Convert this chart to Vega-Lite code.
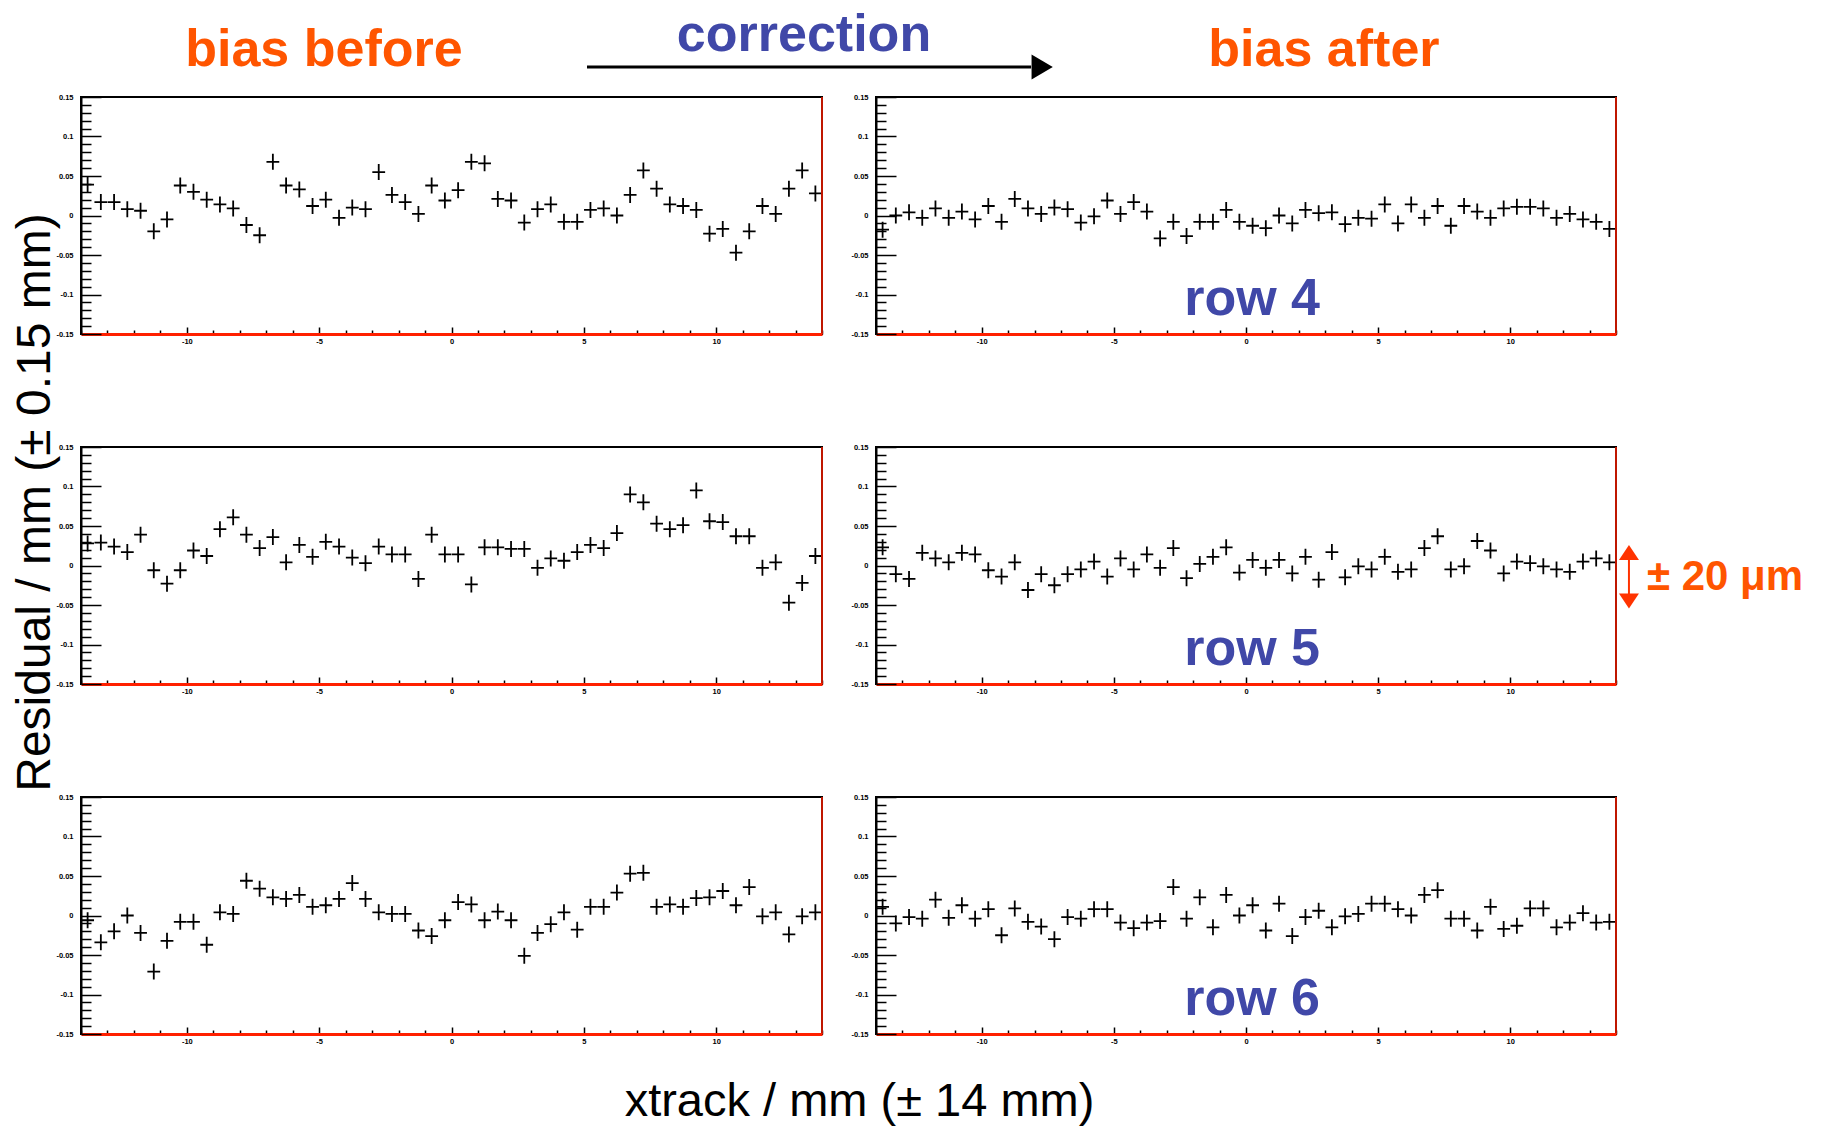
{
"$schema": "https://vega.github.io/schema/vega-lite/v6.json",
"padding": {"left": 9, "top": 8, "right": 10, "bottom": 5},
"background": "white",
"datasets": {
"b4": [{"x":-13.75,"y":0.039},{"x":-13.25,"y":0.017},{"x":-12.75,"y":0.017},{"x":-12.25,"y":0.008},{"x":-11.75,"y":0.006},{"x":-11.25,"y":-0.02},{"x":-10.75,"y":-0.005},{"x":-10.25,"y":0.038},{"x":-9.75,"y":0.03},{"x":-9.25,"y":0.02},{"x":-8.75,"y":0.014},{"x":-8.25,"y":0.009},{"x":-7.75,"y":-0.012},{"x":-7.25,"y":-0.025},{"x":-6.75,"y":0.068},{"x":-6.25,"y":0.038},{"x":-5.75,"y":0.033},{"x":-5.25,"y":0.012},{"x":-4.75,"y":0.02},{"x":-4.25,"y":-0.003},{"x":-3.75,"y":0.01},{"x":-3.25,"y":0.008},{"x":-2.75,"y":0.055},{"x":-2.25,"y":0.026},{"x":-1.75,"y":0.017},{"x":-1.25,"y":0.002},{"x":-0.75,"y":0.038},{"x":-0.25,"y":0.019},{"x":0.25,"y":0.032},{"x":0.75,"y":0.068},{"x":1.25,"y":0.066},{"x":1.75,"y":0.021},{"x":2.25,"y":0.019},{"x":2.75,"y":-0.009},{"x":3.25,"y":0.008},{"x":3.75,"y":0.014},{"x":4.25,"y":-0.008},{"x":4.75,"y":-0.008},{"x":5.25,"y":0.007},{"x":5.75,"y":0.009},{"x":6.25,"y":0},{"x":6.75,"y":0.026},{"x":7.25,"y":0.057},{"x":7.75,"y":0.034},{"x":8.25,"y":0.014},{"x":8.75,"y":0.012},{"x":9.25,"y":0.007},{"x":9.75,"y":-0.023},{"x":10.25,"y":-0.017},{"x":10.75,"y":-0.047},{"x":11.25,"y":-0.02},{"x":11.75,"y":0.012},{"x":12.25,"y":0.002},{"x":12.75,"y":0.034},{"x":13.25,"y":0.057},{"x":13.75,"y":0.028}],
"a4": [{"x":-13.75,"y":-0.018},{"x":-13.25,"y":0},{"x":-12.75,"y":0.004},{"x":-12.25,"y":-0.003},{"x":-11.75,"y":0.009},{"x":-11.25,"y":-0.003},{"x":-10.75,"y":0.005},{"x":-10.25,"y":-0.005},{"x":-9.75,"y":0.012},{"x":-9.25,"y":-0.008},{"x":-8.75,"y":0.021},{"x":-8.25,"y":0.009},{"x":-7.75,"y":0.002},{"x":-7.25,"y":0.01},{"x":-6.75,"y":0.008},{"x":-6.25,"y":-0.009},{"x":-5.75,"y":-0.001},{"x":-5.25,"y":0.019},{"x":-4.75,"y":0.002},{"x":-4.25,"y":0.017},{"x":-3.75,"y":0.005},{"x":-3.25,"y":-0.029},{"x":-2.75,"y":-0.008},{"x":-2.25,"y":-0.026},{"x":-1.75,"y":-0.008},{"x":-1.25,"y":-0.008},{"x":-0.75,"y":0.007},{"x":-0.25,"y":-0.008},{"x":0.25,"y":-0.013},{"x":0.75,"y":-0.016},{"x":1.25,"y":0},{"x":1.75,"y":-0.01},{"x":2.25,"y":0.007},{"x":2.75,"y":0.003},{"x":3.25,"y":0.004},{"x":3.75,"y":-0.011},{"x":4.25,"y":-0.003},{"x":4.75,"y":-0.004},{"x":5.25,"y":0.014},{"x":5.75,"y":-0.01},{"x":6.25,"y":0.014},{"x":6.75,"y":-0.003},{"x":7.25,"y":0.012},{"x":7.75,"y":-0.013},{"x":8.25,"y":0.012},{"x":8.75,"y":0.005},{"x":9.25,"y":-0.003},{"x":9.75,"y":0.009},{"x":10.25,"y":0.011},{"x":10.75,"y":0.011},{"x":11.25,"y":0.009},{"x":11.75,"y":-0.003},{"x":12.25,"y":0.002},{"x":12.75,"y":-0.005},{"x":13.25,"y":-0.008},{"x":13.75,"y":-0.017}],
"b5": [{"x":-13.75,"y":0.028},{"x":-13.25,"y":0.029},{"x":-12.75,"y":0.024},{"x":-12.25,"y":0.017},{"x":-11.75,"y":0.039},{"x":-11.25,"y":-0.006},{"x":-10.75,"y":-0.023},{"x":-10.25,"y":-0.006},{"x":-9.75,"y":0.019},{"x":-9.25,"y":0.012},{"x":-8.75,"y":0.046},{"x":-8.25,"y":0.061},{"x":-7.75,"y":0.039},{"x":-7.25,"y":0.022},{"x":-6.75,"y":0.036},{"x":-6.25,"y":0.004},{"x":-5.75,"y":0.026},{"x":-5.25,"y":0.011},{"x":-4.75,"y":0.03},{"x":-4.25,"y":0.024},{"x":-3.75,"y":0.01},{"x":-3.25,"y":0.003},{"x":-2.75,"y":0.024},{"x":-2.25,"y":0.014},{"x":-1.75,"y":0.014},{"x":-1.25,"y":-0.017},{"x":-0.75,"y":0.039},{"x":-0.25,"y":0.014},{"x":0.25,"y":0.014},{"x":0.75,"y":-0.024},{"x":1.25,"y":0.023},{"x":1.75,"y":0.023},{"x":2.25,"y":0.021},{"x":2.75,"y":0.021},{"x":3.25,"y":-0.003},{"x":3.75,"y":0.009},{"x":4.25,"y":0.006},{"x":4.75,"y":0.017},{"x":5.25,"y":0.026},{"x":5.75,"y":0.022},{"x":6.25,"y":0.041},{"x":6.75,"y":0.09},{"x":7.25,"y":0.08},{"x":7.75,"y":0.053},{"x":8.25,"y":0.046},{"x":8.75,"y":0.051},{"x":9.25,"y":0.095},{"x":9.75,"y":0.056},{"x":10.25,"y":0.055},{"x":10.75,"y":0.037},{"x":11.25,"y":0.037},{"x":11.75,"y":-0.003},{"x":12.25,"y":0.004},{"x":12.75,"y":-0.047},{"x":13.25,"y":-0.022},{"x":13.75,"y":0.012}],
"a5": [{"x":-13.75,"y":0.023},{"x":-13.25,"y":-0.011},{"x":-12.75,"y":-0.017},{"x":-12.25,"y":0.016},{"x":-11.75,"y":0.009},{"x":-11.25,"y":0.004},{"x":-10.75,"y":0.016},{"x":-10.25,"y":0.014},{"x":-9.75,"y":-0.006},{"x":-9.25,"y":-0.014},{"x":-8.75,"y":0.004},{"x":-8.25,"y":-0.031},{"x":-7.75,"y":-0.011},{"x":-7.25,"y":-0.025},{"x":-6.75,"y":-0.011},{"x":-6.25,"y":-0.005},{"x":-5.75,"y":0.005},{"x":-5.25,"y":-0.014},{"x":-4.75,"y":0.009},{"x":-4.25,"y":-0.005},{"x":-3.75,"y":0.014},{"x":-3.25,"y":-0.003},{"x":-2.75,"y":0.022},{"x":-2.25,"y":-0.016},{"x":-1.75,"y":0.002},{"x":-1.25,"y":0.011},{"x":-0.75,"y":0.023},{"x":-0.25,"y":-0.009},{"x":0.25,"y":0.007},{"x":0.75,"y":-0.003},{"x":1.25,"y":0.007},{"x":1.75,"y":-0.01},{"x":2.25,"y":0.011},{"x":2.75,"y":-0.018},{"x":3.25,"y":0.017},{"x":3.75,"y":-0.015},{"x":4.25,"y":-0.001},{"x":4.75,"y":-0.005},{"x":5.25,"y":0.011},{"x":5.75,"y":-0.008},{"x":6.25,"y":-0.005},{"x":6.75,"y":0.022},{"x":7.25,"y":0.037},{"x":7.75,"y":-0.005},{"x":8.25,"y":-0.001},{"x":8.75,"y":0.031},{"x":9.25,"y":0.019},{"x":9.75,"y":-0.01},{"x":10.25,"y":0.005},{"x":10.75,"y":0.003},{"x":11.25,"y":-0.001},{"x":11.75,"y":-0.005},{"x":12.25,"y":-0.008},{"x":12.75,"y":0.005},{"x":13.25,"y":0.009},{"x":13.75,"y":0.004}],
"b6": [{"x":-13.75,"y":-0.006},{"x":-13.25,"y":-0.034},{"x":-12.75,"y":-0.02},{"x":-12.25,"y":0},{"x":-11.75,"y":-0.022},{"x":-11.25,"y":-0.071},{"x":-10.75,"y":-0.032},{"x":-10.25,"y":-0.008},{"x":-9.75,"y":-0.008},{"x":-9.25,"y":-0.037},{"x":-8.75,"y":0.004},{"x":-8.25,"y":0.002},{"x":-7.75,"y":0.044},{"x":-7.25,"y":0.034},{"x":-6.75,"y":0.023},{"x":-6.25,"y":0.021},{"x":-5.75,"y":0.026},{"x":-5.25,"y":0.011},{"x":-4.75,"y":0.013},{"x":-4.25,"y":0.021},{"x":-3.75,"y":0.041},{"x":-3.25,"y":0.021},{"x":-2.75,"y":0.004},{"x":-2.25,"y":0.002},{"x":-1.75,"y":0.002},{"x":-1.25,"y":-0.019},{"x":-0.75,"y":-0.026},{"x":-0.25,"y":-0.006},{"x":0.25,"y":0.017},{"x":0.75,"y":0.014},{"x":1.25,"y":-0.006},{"x":1.75,"y":0.005},{"x":2.25,"y":-0.006},{"x":2.75,"y":-0.051},{"x":3.25,"y":-0.022},{"x":3.75,"y":-0.011},{"x":4.25,"y":0.004},{"x":4.75,"y":-0.018},{"x":5.25,"y":0.011},{"x":5.75,"y":0.011},{"x":6.25,"y":0.029},{"x":6.75,"y":0.053},{"x":7.25,"y":0.054},{"x":7.75,"y":0.011},{"x":8.25,"y":0.014},{"x":8.75,"y":0.011},{"x":9.25,"y":0.022},{"x":9.75,"y":0.023},{"x":10.25,"y":0.031},{"x":10.75,"y":0.013},{"x":11.25,"y":0.036},{"x":11.75,"y":-0.001},{"x":12.25,"y":0.004},{"x":12.75,"y":-0.024},{"x":13.25,"y":-0.001},{"x":13.75,"y":0.004}],
"a6": [{"x":-13.75,"y":0.011},{"x":-13.25,"y":-0.01},{"x":-12.75,"y":-0.002},{"x":-12.25,"y":-0.004},{"x":-11.75,"y":0.02},{"x":-11.25,"y":-0.003},{"x":-10.75,"y":0.013},{"x":-10.25,"y":-0.004},{"x":-9.75,"y":0.008},{"x":-9.25,"y":-0.025},{"x":-8.75,"y":0.009},{"x":-8.25,"y":-0.008},{"x":-7.75,"y":-0.014},{"x":-7.25,"y":-0.03},{"x":-6.75,"y":-0.002},{"x":-6.25,"y":-0.004},{"x":-5.75,"y":0.008},{"x":-5.25,"y":0.008},{"x":-4.75,"y":-0.009},{"x":-4.25,"y":-0.016},{"x":-3.75,"y":-0.009},{"x":-3.25,"y":-0.007},{"x":-2.75,"y":0.036},{"x":-2.25,"y":-0.004},{"x":-1.75,"y":0.023},{"x":-1.25,"y":-0.015},{"x":-0.75,"y":0.026},{"x":-0.25,"y":0},{"x":0.25,"y":0.013},{"x":0.75,"y":-0.019},{"x":1.25,"y":0.015},{"x":1.75,"y":-0.026},{"x":2.25,"y":-0.002},{"x":2.75,"y":0.006},{"x":3.25,"y":-0.015},{"x":3.75,"y":-0.001},{"x":4.25,"y":0.002},{"x":4.75,"y":0.015},{"x":5.25,"y":0.015},{"x":5.75,"y":0.008},{"x":6.25,"y":0},{"x":6.75,"y":0.026},{"x":7.25,"y":0.032},{"x":7.75,"y":-0.004},{"x":8.25,"y":-0.004},{"x":8.75,"y":-0.019},{"x":9.25,"y":0.011},{"x":9.75,"y":-0.017},{"x":10.25,"y":-0.013},{"x":10.75,"y":0.009},{"x":11.25,"y":0.009},{"x":11.75,"y":-0.015},{"x":12.25,"y":-0.009},{"x":12.75,"y":0.003},{"x":13.25,"y":-0.009},{"x":13.75,"y":-0.008}]
},
"columns": 2,
"spacing": {"row": 113, "column": 54},
"bounds": "flush",
"concat": [
 {"width": 741, "height": 237, "resolve": {"axis": {"x": "independent", "y": "independent"}}, "layer": [
  {"data": {"name": "b4"}, "mark": {"type": "point", "shape": "M-0.8,0H0.8M0,-1V1", "size": 256, "filled": false, "color": "#000", "strokeWidth": 1.8, "opacity": 1},
   "encoding": {
    "x": {"field": "x", "type": "quantitative", "scale": {"domain": [-14, 14], "nice": false, "zero": false}, "axis": {"title": null, "values": [-14,-13,-12,-11,-10,-9,-8,-7,-6,-5,-4,-3,-2,-1,0,1,2,3,4,5,6,7,8,9,10,11,12,13,14], "labelExpr": "datum.value % 5 === 0 ? '' + datum.value : ''", "tickSize": {"condition": {"test": "datum.value % 5 === 0", "value": -7}, "value": -4}, "labelPadding": 10, "domainColor": "#FF2000", "domainWidth": 3, "labelBaseline": "top", "labelAlign": "center"}},
    "y": {"field": "y", "type": "quantitative", "scale": {"domain": [-0.15, 0.15], "nice": false, "zero": false}, "axis": {"title": null, "values": [-0.15,-0.14,-0.13,-0.12,-0.11,-0.1,-0.09,-0.08,-0.07,-0.06,-0.05,-0.04,-0.03,-0.02,-0.01,0,0.01,0.02,0.03,0.04,0.05,0.06,0.07,0.08,0.09,0.1,0.11,0.12,0.13,0.14,0.15], "labelExpr": "abs(round(datum.value*100)) % 5 === 0 ? '' + round(datum.value*100)/100 : ''", "tickSize": {"condition": {"test": "abs(round(datum.value*100)) % 5 === 0", "value": -20}, "value": -10}, "labelPadding": 28, "domainColor": "#000", "domainWidth": 2, "labelAlign": "right", "labelBaseline": "middle"}}
   }},
  {"data": {"values": [{}]}, "mark": {"type": "rule", "color": "#FF1E00", "strokeWidth": 1.5}, "encoding": {"x": {"datum": 14, "axis": null}}},
  {"data": {"values": [{}]}, "mark": {"type": "text", "text": "bias before", "font": "Liberation Sans", "fontWeight": "bold", "fontSize": 52, "color": "#FF5500", "align": "center", "baseline": "alphabetic"}, "encoding": {"x": {"datum": -4.82, "axis": null}, "y": {"datum": 0.189, "axis": null}}},
  {"data": {"values": [{}]}, "mark": {"type": "text", "text": "correction", "font": "Liberation Sans", "fontWeight": "bold", "fontSize": 52, "color": "#4048A8", "align": "center", "baseline": "alphabetic"}, "encoding": {"x": {"datum": 13.32, "axis": null}, "y": {"datum": 0.208, "axis": null}}},
  {"data": {"values": [{}]}, "mark": {"type": "rule", "color": "#000", "strokeWidth": 3}, "encoding": {"x": {"datum": 5.12, "axis": null}, "x2": {"datum": 21.9}, "y": {"datum": 0.188, "axis": null}}},
  {"data": {"values": [{}]}, "mark": {"type": "point", "shape": "M-0.85,-1L0.85,0L-0.85,1Z", "size": 625, "filled": true, "color": "#000", "opacity": 1}, "encoding": {"x": {"datum": 22.32, "axis": null}, "y": {"datum": 0.188, "axis": null}}}
 ]},
 {"width": 740, "height": 237, "resolve": {"axis": {"x": "independent", "y": "independent"}}, "layer": [
  {"data": {"name": "a4"}, "mark": {"type": "point", "shape": "M-0.8,0H0.8M0,-1V1", "size": 256, "filled": false, "color": "#000", "strokeWidth": 1.8, "opacity": 1},
   "encoding": {
    "x": {"field": "x", "type": "quantitative", "scale": {"domain": [-14, 14], "nice": false, "zero": false}, "axis": {"title": null, "values": [-14,-13,-12,-11,-10,-9,-8,-7,-6,-5,-4,-3,-2,-1,0,1,2,3,4,5,6,7,8,9,10,11,12,13,14], "labelExpr": "datum.value % 5 === 0 ? '' + datum.value : ''", "tickSize": {"condition": {"test": "datum.value % 5 === 0", "value": -7}, "value": -4}, "labelPadding": 10, "domainColor": "#FF2000", "domainWidth": 3, "labelBaseline": "top", "labelAlign": "center"}},
    "y": {"field": "y", "type": "quantitative", "scale": {"domain": [-0.15, 0.15], "nice": false, "zero": false}, "axis": {"title": null, "values": [-0.15,-0.14,-0.13,-0.12,-0.11,-0.1,-0.09,-0.08,-0.07,-0.06,-0.05,-0.04,-0.03,-0.02,-0.01,0,0.01,0.02,0.03,0.04,0.05,0.06,0.07,0.08,0.09,0.1,0.11,0.12,0.13,0.14,0.15], "labelExpr": "abs(round(datum.value*100)) % 5 === 0 ? '' + round(datum.value*100)/100 : ''", "tickSize": {"condition": {"test": "abs(round(datum.value*100)) % 5 === 0", "value": -20}, "value": -10}, "labelPadding": 28, "domainColor": "#000", "domainWidth": 2, "labelAlign": "right", "labelBaseline": "middle"}}
   }},
  {"data": {"values": [{}]}, "mark": {"type": "rule", "color": "#FF1E00", "strokeWidth": 1.5}, "encoding": {"x": {"datum": 14, "axis": null}}},
  {"data": {"values": [{}]}, "mark": {"type": "text", "text": "bias after", "font": "Liberation Sans", "fontWeight": "bold", "fontSize": 52, "color": "#FF5500", "align": "center", "baseline": "alphabetic"}, "encoding": {"x": {"datum": 2.95, "axis": null}, "y": {"datum": 0.189, "axis": null}}},
  {"data": {"values": [{}]}, "mark": {"type": "text", "text": "row 4", "font": "Liberation Sans", "fontWeight": "bold", "fontSize": 52, "color": "#4048A8", "align": "center", "baseline": "alphabetic"}, "encoding": {"x": {"datum": 0.23, "axis": null}, "y": {"datum": -0.126, "axis": null}}}
 ]},
 {"width": 741, "height": 237, "resolve": {"axis": {"x": "independent", "y": "independent"}}, "layer": [
  {"data": {"name": "b5"}, "mark": {"type": "point", "shape": "M-0.8,0H0.8M0,-1V1", "size": 256, "filled": false, "color": "#000", "strokeWidth": 1.8, "opacity": 1},
   "encoding": {
    "x": {"field": "x", "type": "quantitative", "scale": {"domain": [-14, 14], "nice": false, "zero": false}, "axis": {"title": null, "values": [-14,-13,-12,-11,-10,-9,-8,-7,-6,-5,-4,-3,-2,-1,0,1,2,3,4,5,6,7,8,9,10,11,12,13,14], "labelExpr": "datum.value % 5 === 0 ? '' + datum.value : ''", "tickSize": {"condition": {"test": "datum.value % 5 === 0", "value": -7}, "value": -4}, "labelPadding": 10, "domainColor": "#FF2000", "domainWidth": 3, "labelBaseline": "top", "labelAlign": "center"}},
    "y": {"field": "y", "type": "quantitative", "scale": {"domain": [-0.15, 0.15], "nice": false, "zero": false}, "axis": {"title": "Residual / mm (± 0.15 mm)", "titleFontSize": 48, "titleX": -46, "titleY": 55, "titleAngle": 270, "titleAlign": "center", "titleBaseline": "middle", "values": [-0.15,-0.14,-0.13,-0.12,-0.11,-0.1,-0.09,-0.08,-0.07,-0.06,-0.05,-0.04,-0.03,-0.02,-0.01,0,0.01,0.02,0.03,0.04,0.05,0.06,0.07,0.08,0.09,0.1,0.11,0.12,0.13,0.14,0.15], "labelExpr": "abs(round(datum.value*100)) % 5 === 0 ? '' + round(datum.value*100)/100 : ''", "tickSize": {"condition": {"test": "abs(round(datum.value*100)) % 5 === 0", "value": -20}, "value": -10}, "labelPadding": 28, "domainColor": "#000", "domainWidth": 2, "labelAlign": "right", "labelBaseline": "middle"}}
   }},
  {"data": {"values": [{}]}, "mark": {"type": "rule", "color": "#FF1E00", "strokeWidth": 1.5}, "encoding": {"x": {"datum": 14, "axis": null}}}
 ]},
 {"width": 740, "height": 237, "resolve": {"axis": {"x": "independent", "y": "independent"}}, "layer": [
  {"data": {"name": "a5"}, "mark": {"type": "point", "shape": "M-0.8,0H0.8M0,-1V1", "size": 256, "filled": false, "color": "#000", "strokeWidth": 1.8, "opacity": 1},
   "encoding": {
    "x": {"field": "x", "type": "quantitative", "scale": {"domain": [-14, 14], "nice": false, "zero": false}, "axis": {"title": null, "values": [-14,-13,-12,-11,-10,-9,-8,-7,-6,-5,-4,-3,-2,-1,0,1,2,3,4,5,6,7,8,9,10,11,12,13,14], "labelExpr": "datum.value % 5 === 0 ? '' + datum.value : ''", "tickSize": {"condition": {"test": "datum.value % 5 === 0", "value": -7}, "value": -4}, "labelPadding": 10, "domainColor": "#FF2000", "domainWidth": 3, "labelBaseline": "top", "labelAlign": "center"}},
    "y": {"field": "y", "type": "quantitative", "scale": {"domain": [-0.15, 0.15], "nice": false, "zero": false}, "axis": {"title": null, "values": [-0.15,-0.14,-0.13,-0.12,-0.11,-0.1,-0.09,-0.08,-0.07,-0.06,-0.05,-0.04,-0.03,-0.02,-0.01,0,0.01,0.02,0.03,0.04,0.05,0.06,0.07,0.08,0.09,0.1,0.11,0.12,0.13,0.14,0.15], "labelExpr": "abs(round(datum.value*100)) % 5 === 0 ? '' + round(datum.value*100)/100 : ''", "tickSize": {"condition": {"test": "abs(round(datum.value*100)) % 5 === 0", "value": -20}, "value": -10}, "labelPadding": 28, "domainColor": "#000", "domainWidth": 2, "labelAlign": "right", "labelBaseline": "middle"}}
   }},
  {"data": {"values": [{}]}, "mark": {"type": "rule", "color": "#FF1E00", "strokeWidth": 1.5}, "encoding": {"x": {"datum": 14, "axis": null}}},
  {"data": {"values": [{}]}, "mark": {"type": "text", "text": "row 5", "font": "Liberation Sans", "fontWeight": "bold", "fontSize": 52, "color": "#4048A8", "align": "center", "baseline": "alphabetic"}, "encoding": {"x": {"datum": 0.23, "axis": null}, "y": {"datum": -0.126, "axis": null}}},
  {"data": {"values": [{}]}, "mark": {"type": "text", "text": "± 20 μm", "font": "Liberation Sans", "fontWeight": "bold", "fontSize": 42, "color": "#FF5500", "align": "left", "baseline": "alphabetic"}, "encoding": {"x": {"datum": 15.17, "axis": null}, "y": {"datum": -0.031, "axis": null}}},
  {"data": {"values": [{}]}, "mark": {"type": "rule", "color": "#FF3300", "strokeWidth": 2}, "encoding": {"x": {"datum": 14.49, "axis": null}, "y": {"datum": 0.0165, "axis": null}, "y2": {"datum": -0.0448}}},
  {"data": {"values": [{}]}, "mark": {"type": "point", "shape": "M0,-0.75L1,0.75L-1,0.75Z", "size": 400, "filled": true, "color": "#FF3300", "opacity": 1}, "encoding": {"x": {"datum": 14.49, "axis": null}, "y": {"datum": 0.0165, "axis": null}}},
  {"data": {"values": [{}]}, "mark": {"type": "point", "shape": "M0,0.75L1,-0.75L-1,-0.75Z", "size": 400, "filled": true, "color": "#FF3300", "opacity": 1}, "encoding": {"x": {"datum": 14.49, "axis": null}, "y": {"datum": -0.0448, "axis": null}}}
 ]},
 {"width": 741, "height": 237, "resolve": {"axis": {"x": "independent", "y": "independent"}}, "layer": [
  {"data": {"name": "b6"}, "mark": {"type": "point", "shape": "M-0.8,0H0.8M0,-1V1", "size": 256, "filled": false, "color": "#000", "strokeWidth": 1.8, "opacity": 1},
   "encoding": {
    "x": {"field": "x", "type": "quantitative", "scale": {"domain": [-14, 14], "nice": false, "zero": false}, "axis": {"title": "xtrack / mm (± 14 mm)", "titleFontSize": 47, "titleX": 778, "titleY": 67, "titleAlign": "center", "titleBaseline": "middle", "values": [-14,-13,-12,-11,-10,-9,-8,-7,-6,-5,-4,-3,-2,-1,0,1,2,3,4,5,6,7,8,9,10,11,12,13,14], "labelExpr": "datum.value % 5 === 0 ? '' + datum.value : ''", "tickSize": {"condition": {"test": "datum.value % 5 === 0", "value": -7}, "value": -4}, "labelPadding": 10, "domainColor": "#FF2000", "domainWidth": 3, "labelBaseline": "top", "labelAlign": "center"}},
    "y": {"field": "y", "type": "quantitative", "scale": {"domain": [-0.15, 0.15], "nice": false, "zero": false}, "axis": {"title": null, "values": [-0.15,-0.14,-0.13,-0.12,-0.11,-0.1,-0.09,-0.08,-0.07,-0.06,-0.05,-0.04,-0.03,-0.02,-0.01,0,0.01,0.02,0.03,0.04,0.05,0.06,0.07,0.08,0.09,0.1,0.11,0.12,0.13,0.14,0.15], "labelExpr": "abs(round(datum.value*100)) % 5 === 0 ? '' + round(datum.value*100)/100 : ''", "tickSize": {"condition": {"test": "abs(round(datum.value*100)) % 5 === 0", "value": -20}, "value": -10}, "labelPadding": 28, "domainColor": "#000", "domainWidth": 2, "labelAlign": "right", "labelBaseline": "middle"}}
   }},
  {"data": {"values": [{}]}, "mark": {"type": "rule", "color": "#FF1E00", "strokeWidth": 1.5}, "encoding": {"x": {"datum": 14, "axis": null}}}
 ]},
 {"width": 740, "height": 237, "resolve": {"axis": {"x": "independent", "y": "independent"}}, "layer": [
  {"data": {"name": "a6"}, "mark": {"type": "point", "shape": "M-0.8,0H0.8M0,-1V1", "size": 256, "filled": false, "color": "#000", "strokeWidth": 1.8, "opacity": 1},
   "encoding": {
    "x": {"field": "x", "type": "quantitative", "scale": {"domain": [-14, 14], "nice": false, "zero": false}, "axis": {"title": null, "values": [-14,-13,-12,-11,-10,-9,-8,-7,-6,-5,-4,-3,-2,-1,0,1,2,3,4,5,6,7,8,9,10,11,12,13,14], "labelExpr": "datum.value % 5 === 0 ? '' + datum.value : ''", "tickSize": {"condition": {"test": "datum.value % 5 === 0", "value": -7}, "value": -4}, "labelPadding": 10, "domainColor": "#FF2000", "domainWidth": 3, "labelBaseline": "top", "labelAlign": "center"}},
    "y": {"field": "y", "type": "quantitative", "scale": {"domain": [-0.15, 0.15], "nice": false, "zero": false}, "axis": {"title": null, "values": [-0.15,-0.14,-0.13,-0.12,-0.11,-0.1,-0.09,-0.08,-0.07,-0.06,-0.05,-0.04,-0.03,-0.02,-0.01,0,0.01,0.02,0.03,0.04,0.05,0.06,0.07,0.08,0.09,0.1,0.11,0.12,0.13,0.14,0.15], "labelExpr": "abs(round(datum.value*100)) % 5 === 0 ? '' + round(datum.value*100)/100 : ''", "tickSize": {"condition": {"test": "abs(round(datum.value*100)) % 5 === 0", "value": -20}, "value": -10}, "labelPadding": 28, "domainColor": "#000", "domainWidth": 2, "labelAlign": "right", "labelBaseline": "middle"}}
   }},
  {"data": {"values": [{}]}, "mark": {"type": "rule", "color": "#FF1E00", "strokeWidth": 1.5}, "encoding": {"x": {"datum": 14, "axis": null}}},
  {"data": {"values": [{}]}, "mark": {"type": "text", "text": "row 6", "font": "Liberation Sans", "fontWeight": "bold", "fontSize": 52, "color": "#4048A8", "align": "center", "baseline": "alphabetic"}, "encoding": {"x": {"datum": 0.23, "axis": null}, "y": {"datum": -0.126, "axis": null}}}
 ]}
],
"config": {
 "view": {"stroke": "#000", "strokeWidth": 2},
 "axis": {"grid": false, "tickColor": "#000", "tickWidth": 1.5, "labelColor": "#000", "labelFont": "Liberation Sans", "labelFontSize": 7.5, "labelFontWeight": "bold", "labelFlush": false, "labelOverlap": false, "labelBound": false, "titleFont": "Liberation Sans", "titleFontWeight": "normal", "titleColor": "#000"}
}
}
